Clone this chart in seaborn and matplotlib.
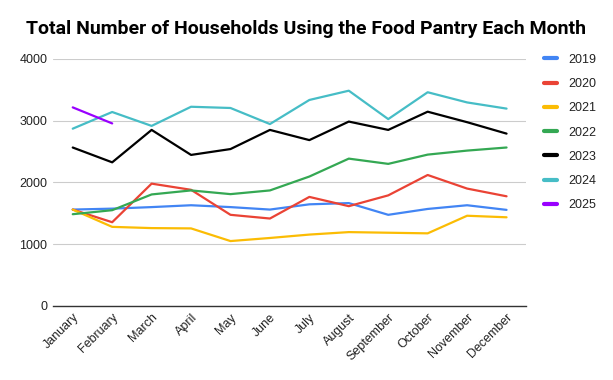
import matplotlib
matplotlib.use("Agg")
import matplotlib.pyplot as plt
import seaborn as sns
import pandas as pd

months = ["January", "February", "March", "April", "May", "June", "July",
          "August", "September", "October", "November", "December"]

y2019 = [1560, 1575, 1600, 1630, 1600, 1560, 1645, 1665, 1475, 1570, 1630, 1555]
y2020 = [1560, 1355, 1980, 1880, 1475, 1415, 1765, 1615, 1790, 2120, 1900, 1775]
y2021 = [1560, 1280, 1260, 1255, 1050, 1100, 1155, 1195, 1185, 1175, 1460, 1435]
y2022 = [1485, 1550, 1805, 1870, 1810, 1870, 2095, 2385, 2300, 2450, 2515, 2565]
y2023 = [2565, 2325, 2850, 2445, 2540, 2850, 2685, 2985, 2850, 3145, 2975, 2790]
y2024 = [2870, 3140, 2915, 3225, 3205, 2945, 3335, 3485, 3025, 3460, 3295, 3195]
y2025 = [3215, 2955]

series = {"2019": y2019, "2020": y2020, "2021": y2021, "2022": y2022,
          "2023": y2023, "2024": y2024, "2025": y2025}
colors = {"2019": "#4285F4", "2020": "#EA4335", "2021": "#FBBC04", "2022": "#34A853",
          "2023": "#000000", "2024": "#46BDC6", "2025": "#9900FF"}

rows = []
for year, vals in series.items():
    for m, v in zip(months, vals):
        rows.append({"month": m, "households": v, "year": year})
df = pd.DataFrame(rows)

sns.set_theme(style="white")
plt.rcParams["font.family"] = ["Liberation Sans", "DejaVu Sans"]

fig = plt.figure(figsize=(6.13, 3.80), dpi=100)
ax = fig.add_axes([0.0865, 0.195, 0.772, 0.65])

sns.lineplot(data=df, x="month", y="households", hue="year", palette=colors,
             sort=False, linewidth=1.6, ax=ax, legend=True)

ax.set_xlim(-0.5, 11.5)
ax.set_ylim(0, 4000)
ax.set_yticks([0, 1000, 2000, 3000, 4000])
ax.set_xticks(range(len(months)))
ax.set_xticklabels(months, rotation=45, ha="right", rotation_mode="anchor",
                   fontsize=9, color="#222222")
ax.tick_params(axis="y", labelsize=9, labelcolor="#222222", length=0, pad=4)
ax.tick_params(axis="x", length=0, pad=4)
ax.grid(axis="y", color="#cccccc", linewidth=0.8)
ax.set_axisbelow(True)
for s in ["top", "right", "left"]:
    ax.spines[s].set_visible(False)
ax.spines["bottom"].set_color("#333333")
ax.spines["bottom"].set_linewidth(1.0)
ax.set_xlabel("")
ax.set_ylabel("")

handles, labels = ax.get_legend_handles_labels()
for h in handles:
    h.set_linewidth(3)
ax.legend(handles, labels, loc="upper left", bbox_to_anchor=(1.014, 1.066),
          frameon=False, fontsize=9, handlelength=1.0, handletextpad=0.9,
          labelspacing=0.98, labelcolor="#222222")

fig.text(0.5, 0.923, "Total Number of Households Using the Food Pantry Each Month",
         ha="center", va="center", fontsize=14, fontweight="bold",
         family=["Roboto", "DejaVu Sans"], color="#000000")

fig.savefig("out.png", dpi=100, facecolor="white")
plt.close(fig)
